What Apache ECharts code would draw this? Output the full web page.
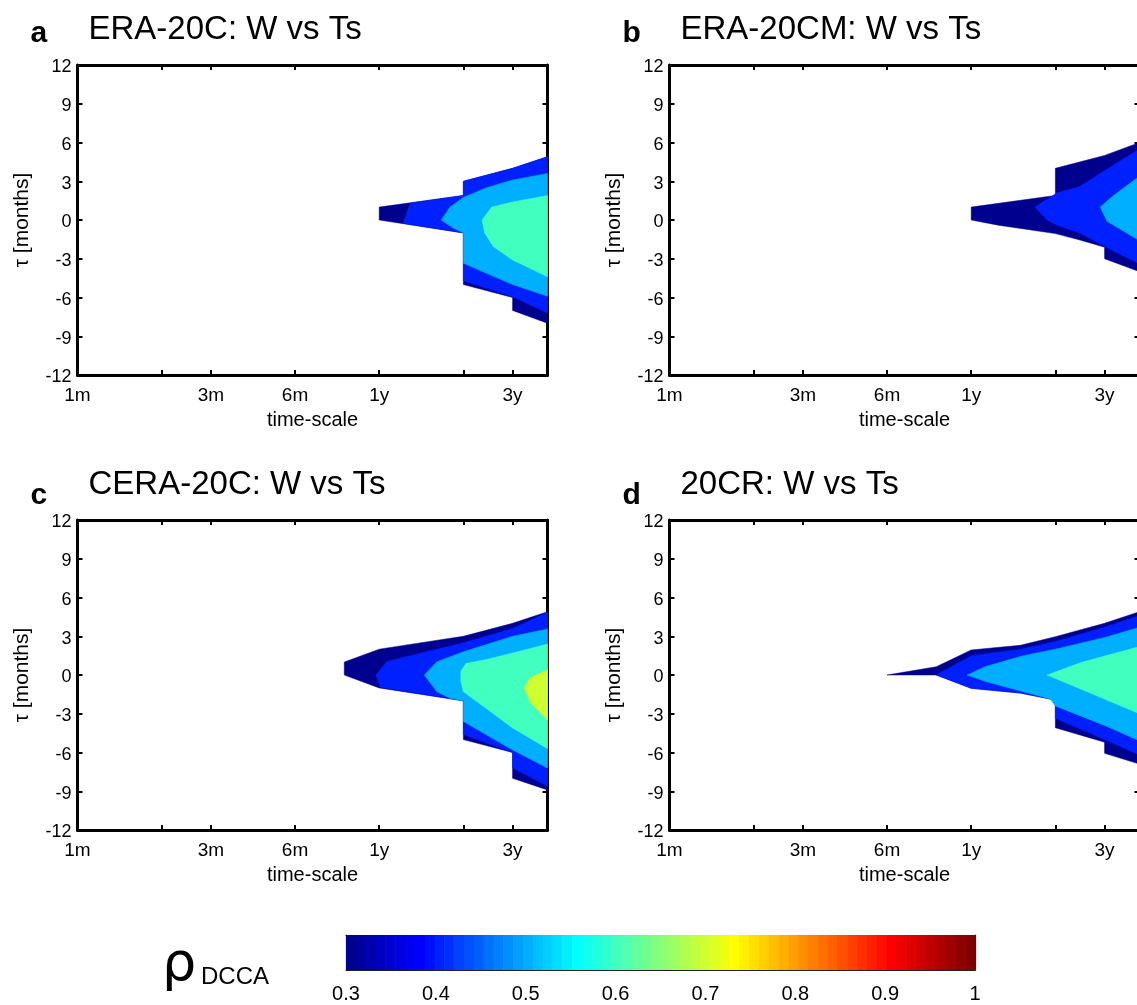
<!DOCTYPE html>
<html><head><meta charset="utf-8">
<script src="https://cdn.jsdelivr.net/npm/echarts@6/dist/echarts.min.js"></script>
<style>html,body{margin:0;padding:0;background:#fff}#c{width:1137px;height:1005px}</style>
</head><body><div id="c"></div>
<script>
// ================= DATA =================
// time-scale axis (months, log scale)
const timeRangeMonths = [1, 48];
const timeTickMonths = [1, 2, 3, 6, 12, 24, 36];
const timeLabelMonths = [1, 3, 6, 12, 36];
const timeLabelTexts = ['1m', '3m', '6m', '1y', '3y'];
// lag axis (months)
const tauRange = [-12, 12];
const tauStep = 3;
// contour levels of rho_DCCA
const contourLevels = [0.3, 0.4, 0.5, 0.6, 0.7];
const colorbarRange = [0.3, 1];
const colorbarStep = 0.1;
const panelTitles = ['ERA-20C: W vs Ts', 'ERA-20CM: W vs Ts', 'CERA-20C: W vs Ts', '20CR: W vs Ts'];
const panelLetters = ['a', 'b', 'c', 'd'];

// Contour regions: boundary of area where rho >= level, as [time-scale (months), tau (months)]
// a: ERA-20C
const era20c_03 = [[12,0],[12,1],[24,1.9],[24,3],[36,4],[48,4.9],[48,-8],[36,-7],[36,-6],[24,-5],[24,-1]];
const era20c_04 = [[14.6,-0.25],[15.5,1.3],[24,1.9],[24,3],[36,4],[48,4.9],[48,-7.2],[36,-5.95],[24,-4.7],[24,-1]];
const era20c_05 = [[20,0],[21.5,1.0],[24,1.75],[29,2.5],[36,3.1],[48,3.6],[48,-5.9],[36,-5.0],[24,-3.35],[24,-1],[22,-0.6]];
const era20c_06 = [[28,0],[30.3,1.0],[36,1.4],[48,1.9],[48,-4.4],[36,-3.1],[30.7,-2.06],[28.6,-1.0]];
// b: ERA-20CM
const era20cm_03 = [[12,0],[12,1],[24,1.9],[24,4],[36,5],[48,6],[48,-4],[36,-3],[36,-2.1],[29.4,-1.55],[24,-1.05],[15,-0.4]];
const era20cm_04 = [[20.3,1.0],[24.3,2.1],[29.4,2.6],[34.7,3.6],[48,5.5],[48,-3.4],[36,-2.05],[29.4,-1.0],[24.3,-0.4],[22.4,0]];
const era20cm_05 = [[34.7,1.0],[38.7,1.9],[48,3.4],[48,-1.6],[36.7,-0.1]];
// c: CERA-20C
const cera20c_03 = [[9,0],[9,1],[12,2],[24,3],[36,4],[48,4.9],[48,-8.9],[36,-8],[36,-6],[24,-5],[24,-2],[12,-1]];
const cera20c_04 = [[11.7,0],[12.8,1.05],[17,1.7],[24,2.5],[36,3.6],[48,4.85],[48,-8.6],[36,-7.2],[36,-6],[24,-4.6],[24,-2],[12.1,-0.95]];
const cera20c_05 = [[17.4,0],[19.3,1.03],[24,1.8],[36,3.0],[48,3.56],[48,-7.2],[36,-5.8],[24,-3.6],[24,-2],[21.5,-1.8],[19.3,-1.3]];
const cera20c_06 = [[23.5,0.3],[24.5,0.9],[29,1.2],[36,1.7],[48,2.4],[48,-5.7],[36,-4.1],[29,-2.6],[24,-1.3],[23.5,-0.5]];
const cera20c_07 = [[39.6,-1.0],[41.6,-0.2],[48,0.4],[48,-3.5],[41.6,-2.1]];
// d: 20CR
const cr20_03 = [[6,0],[9,0.64],[12,1.94],[18,2.3],[24,2.97],[36,4.0],[48,4.9],[48,-6.9],[36,-6.06],[36,-5.2],[24,-4.08],[24,-1.94],[18,-1.4],[12,-1.03],[9,0]];
const cr20_04 = [[9,0],[12,1.5],[18,2.0],[24,2.6],[36,3.7],[48,4.6],[48,-6.2],[36,-5.0],[24,-3.35],[24,-1.94],[18,-1.4],[12,-1.03]];
const cr20_05 = [[11.6,0],[13.5,0.65],[18.4,1.5],[24,2.0],[36,2.9],[48,3.7],[48,-5.1],[36,-3.9],[24,-2.4],[23,-1.86],[18.4,-1.29],[13.5,-0.5]];
const cr20_06 = [[22.4,0],[30,1.0],[48,2.2],[48,-3.0],[30,-1.15]];

const panelContours = [
  [era20c_03, era20c_04, era20c_05, era20c_06],
  [era20cm_03, era20cm_04, era20cm_05],
  [cera20c_03, cera20c_04, cera20c_05, cera20c_06, cera20c_07],
  [cr20_03, cr20_04, cr20_05, cr20_06]
];

// ================= STYLE / LAYOUT =================
const FONT = '"Liberation Sans", Arial, Helvetica, sans-serif';
const lg = Math.log10;

// MATLAB jet colormap (style)
function jetMap(m) {
  const n = Math.ceil(m / 4);
  const u = [];
  for (let i = 1; i <= n; i++) u.push(i / n);
  for (let i = 1; i < n; i++) u.push(1);
  for (let i = n; i >= 1; i--) u.push(i / n);
  const g0 = Math.ceil(n / 2) - (m % 4 === 1 ? 1 : 0);
  const J = Array.from({length: m}, () => [0, 0, 0]);
  u.forEach((val, k) => {
    const g = g0 + k + 1, r = g + n, b = g - n;
    if (g >= 1 && g <= m) J[g - 1][1] = val;
    if (r >= 1 && r <= m) J[r - 1][0] = val;
    if (b >= 1 && b <= m) J[b - 1][2] = val;
  });
  return J.map(c => 'rgb(' + c.map(v => Math.round(v * 255)).join(',') + ')');
}
const JET = jetMap(64);
function levelColor(L) {
  const idx = Math.min(63, Math.floor((L - colorbarRange[0]) / (colorbarRange[1] - colorbarRange[0]) * 64 + 1e-9));
  return JET[idx];
}

const panelLayout = [
  {left: 77.5, top: 65},
  {left: 669.5, top: 65},
  {left: 77.5, top: 520},
  {left: 669.5, top: 520}
];
const PW = 470, PH = 310;

const grids = [], xAxes = [], yAxes = [], series = [], titles = [];

function timeLabel(v) {
  const i = timeLabelMonths.findIndex(m => Math.abs(lg(m) - v) < 1e-6);
  return i >= 0 ? timeLabelTexts[i] : '';
}

panelLayout.forEach((p, g) => {
  grids.push({left: p.left, top: p.top, width: PW, height: PH, outerBoundsMode: 'none', containLabel: false});
  const axLine = {show: true, onZero: false, lineStyle: {color: '#000', width: 3}};
  const tickStyle = {color: '#000', width: 2};
  const xBase = {
    gridIndex: g, type: 'value', min: lg(timeRangeMonths[0]), max: lg(timeRangeMonths[1]),
    axisLine: axLine, splitLine: {show: false},
    axisTick: {show: true, inside: true, length: 5, customValues: timeTickMonths.map(lg), lineStyle: tickStyle}
  };
  xAxes.push(Object.assign({}, xBase, {
    position: 'bottom',
    axisLabel: {customValues: timeLabelMonths.map(lg), formatter: timeLabel, color: '#000', fontSize: 19, fontFamily: FONT, margin: 11},
    name: 'time-scale', nameLocation: 'middle', nameGap: 35,
    nameTextStyle: {color: '#000', fontSize: 20, fontFamily: FONT}
  }));
  xAxes.push(Object.assign({}, xBase, {position: 'top', axisLabel: {show: false}}));
  const yBase = {
    gridIndex: g, type: 'value', min: tauRange[0], max: tauRange[1], interval: tauStep,
    axisLine: axLine, splitLine: {show: false},
    axisTick: {show: true, inside: true, length: 5, lineStyle: tickStyle}
  };
  yAxes.push(Object.assign({}, yBase, {
    position: 'left',
    axisLabel: {color: '#000', fontSize: 18, fontFamily: FONT, margin: 6,
      formatter: v => '{t|' + v + '}',
      rich: {t: {fontSize: 18, fontFamily: FONT, color: '#000', padding: [5, 0, 0, 0]}}},
    name: 'τ [months]', nameLocation: 'middle', nameRotate: 90, nameGap: 45,
    nameTextStyle: {color: '#000', fontSize: 21, fontFamily: FONT}
  }));
  yAxes.push(Object.assign({}, yBase, {position: 'right', axisLabel: {show: false}}));

  panelContours[g].forEach((poly, li) => {
    const color = levelColor(contourLevels[li]);
    series.push({
      type: 'custom', coordinateSystem: 'cartesian2d',
      xAxisIndex: g * 2, yAxisIndex: g * 2,
      data: poly.map(pt => [lg(pt[0]), pt[1]]),
      encode: {x: 0, y: 1},
      clip: true, silent: true, animation: false, z: 1,
      renderItem: (params, api) => {
        if (params.dataIndex !== 0) return null;
        const pts = poly.map(pt => api.coord([lg(pt[0]), pt[1]]));
        return {type: 'polygon', shape: {points: pts}, style: {fill: color, stroke: color, lineWidth: 0.5}};
      }
    });
  });

  titles.push({text: panelTitles[g], left: p.left + 6, top: p.top - 57,
    textStyle: {fontSize: 33, fontWeight: 'normal', color: '#000', fontFamily: FONT}});
  titles.push({text: panelLetters[g], left: p.left - 52, top: p.top - 51 + (g >= 2 ? 7 : 0),
    textStyle: {fontSize: 30, fontWeight: 'bold', color: '#000', fontFamily: FONT}});
});

// ---- colorbar ----
const cbGrid = grids.length;
grids.push({left: 346, top: 935, width: 629, height: 35, outerBoundsMode: 'none', containLabel: false});
const cbX = {
  gridIndex: cbGrid, type: 'value', min: colorbarRange[0], max: colorbarRange[1], interval: colorbarStep,
  axisLine: {show: true, onZero: false, lineStyle: {color: '#222', width: 1.2}},
  axisTick: {show: true, inside: true, length: 5, lineStyle: {color: '#222', width: 1}},
  splitLine: {show: false}
};
xAxes.push(Object.assign({}, cbX, {position: 'bottom',
  axisLabel: {color: '#000', fontSize: 20, fontFamily: FONT, margin: 14,
    formatter: v => (Math.abs(v - 1) < 1e-9 ? '1' : v.toFixed(1))}}));
xAxes.push(Object.assign({}, cbX, {position: 'top', axisLabel: {show: false}}));
const cbY = {gridIndex: cbGrid, type: 'value', min: 0, max: 1,
  axisLine: {show: true, onZero: false, lineStyle: {color: '#222', width: 1.2}},
  axisTick: {show: false}, axisLabel: {show: false}, splitLine: {show: false}};
yAxes.push(Object.assign({}, cbY, {position: 'left'}));
yAxes.push(Object.assign({}, cbY, {position: 'right'}));
const cbCells = JET.map((c, i) => [
  colorbarRange[0] + i * (colorbarRange[1] - colorbarRange[0]) / JET.length,
  colorbarRange[0] + (i + 1) * (colorbarRange[1] - colorbarRange[0]) / JET.length
]);
series.push({
  type: 'custom', coordinateSystem: 'cartesian2d',
  xAxisIndex: cbGrid * 2, yAxisIndex: cbGrid * 2,
  data: cbCells, encode: {x: [0, 1]}, silent: true, animation: false, z: 1,
  renderItem: (params, api) => {
    const a = api.coord([api.value(0), 1]);
    const b = api.coord([api.value(1), 0]);
    return {type: 'rect', shape: {x: a[0], y: a[1], width: b[0] - a[0] + 0.6, height: b[1] - a[1]},
      style: {fill: JET[params.dataIndex]}};
  }
});
titles.push({text: 'ρ', left: 157, top: 934, textStyle: {fontSize: 54, fontWeight: 'normal', color: '#000', fontFamily: '"DejaVu Sans", sans-serif'}});
titles.push({text: 'DCCA', left: 196, top: 960, textStyle: {fontSize: 24, fontWeight: 'normal', color: '#000', fontFamily: FONT}});

const chart = echarts.init(document.getElementById('c'), null, {renderer: 'canvas'});
chart.setOption({
  animation: false,
  backgroundColor: '#fff',
  title: titles,
  grid: grids,
  xAxis: xAxes,
  yAxis: yAxes,
  series: series
});
</script></body></html>
